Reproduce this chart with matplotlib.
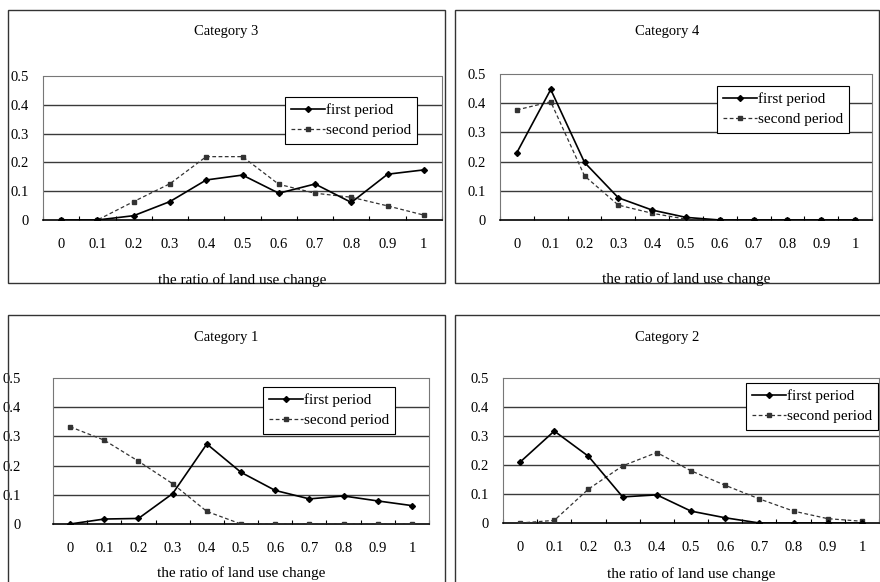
import matplotlib
matplotlib.use("Agg")
import matplotlib.pyplot as plt
from matplotlib.patches import Rectangle
from matplotlib.ticker import FixedLocator

ratio_labels = ["0", "0.1", "0.2", "0.3", "0.4", "0.5", "0.6", "0.7", "0.8", "0.9", "1"]
series_names = ["first period", "second period"]

cat3_first = [0, 0, 0.015, 0.064, 0.139, 0.156, 0.093, 0.125, 0.061, 0.159, 0.174]
cat3_second = [0, 0, 0.064, 0.126, 0.220, 0.220, 0.124, 0.093, 0.079, 0.049, 0.017]

cat4_first = [0.231, 0.447, 0.197, 0.076, 0.034, 0.009, 0, 0, 0, 0, 0]
cat4_second = [0.377, 0.405, 0.151, 0.051, 0.023, 0.003, 0, 0, 0, 0, 0]

cat1_first = [0, 0.017, 0.019, 0.104, 0.274, 0.177, 0.115, 0.086, 0.096, 0.079, 0.063]
cat1_second = [0.333, 0.287, 0.215, 0.138, 0.043, 0, 0, 0, 0, 0, 0]

cat2_first = [0.210, 0.317, 0.230, 0.090, 0.097, 0.041, 0.018, 0, 0, 0, 0]
cat2_second = [0, 0.009, 0.117, 0.197, 0.243, 0.180, 0.130, 0.083, 0.041, 0.015, 0.006]

W, H = 880, 582
plt.rcParams["font.family"] = ["Liberation Serif", "DejaVu Serif"]

fig = plt.figure(figsize=(W / 100, H / 100), dpi=100)


def fx(px):
    return px / W


def fy(py):
    return 1 - py / H


def draw_panel(title, first, second, axbox, frame, title_y, xlabel_y, legend_xy, ypad):
    l, t, r, b = axbox
    ax = fig.add_axes([fx(l), fy(b), fx(r) - fx(l), fy(t) - fy(b)])

    # outer chart frame
    fl, ft, fr, fb = frame
    fig.patches.append(Rectangle((fx(fl), fy(fb)), fx(fr) - fx(fl), fy(ft) - fy(fb),
                                 transform=fig.transFigure, fill=False,
                                 edgecolor="#333333", linewidth=1.0))

    x = list(range(len(ratio_labels)))
    ax.plot(x, first, color="black", linewidth=1.2, marker="D", markersize=3,
            label=series_names[0], zorder=4)
    ax.plot(x, second, color="#333333", linewidth=0.9, linestyle=(0, (3, 2)),
            marker="s", markersize=3, label=series_names[1], zorder=3)

    ax.set_xlim(-0.5, len(ratio_labels) - 0.5)
    ax.set_ylim(0, 0.5)
    ax.set_yticks([0, 0.1, 0.2, 0.3, 0.4, 0.5])
    ax.set_yticklabels(["0", "0.1", "0.2", "0.3", "0.4", "0.5"])
    ax.set_xticks(x)
    ax.set_xticklabels(ratio_labels)
    ax.xaxis.set_minor_locator(FixedLocator([i + 0.5 for i in range(-1, len(ratio_labels))]))

    for yv in [0.1, 0.2, 0.3, 0.4]:
        ax.axhline(yv, color="#3a3a3a", linewidth=1.0, zorder=1)

    ax.tick_params(axis="y", length=0, pad=ypad, labelsize=10.5)
    ax.tick_params(axis="x", which="major", length=0, pad=13, labelsize=10.5)
    ax.tick_params(axis="x", which="minor", length=3, direction="in", width=0.8)

    for side in ["top", "right", "left"]:
        ax.spines[side].set_linestyle((0, (1, 1)))
        ax.spines[side].set_color("#777777")
        ax.spines[side].set_linewidth(0.8)
    ax.spines["bottom"].set_color("black")
    ax.spines["bottom"].set_linewidth(1.2)

    fig.text(fx((fl + min(fr, W)) / 2), fy(title_y), title, ha="center", va="center", fontsize=10.5)
    fig.text(fx((l + r) / 2), fy(xlabel_y), "the ratio of land use change",
             ha="center", va="center", fontsize=11)

    leg = ax.legend(loc="upper left", bbox_to_anchor=(fx(legend_xy[0]), fy(legend_xy[1])),
                    bbox_transform=fig.transFigure, fontsize=11, frameon=True, fancybox=False,
                    borderaxespad=0, handlelength=2.2, handletextpad=0.1,
                    borderpad=0.4, labelspacing=0.45, framealpha=1)
    leg.get_frame().set_edgecolor("black")
    leg.get_frame().set_linewidth(0.8)
    return ax


draw_panel("Category 3", cat3_first, cat3_second, (43, 76, 442, 220), (8, 10, 445, 283),
           32, 280, (285, 97), 10)
draw_panel("Category 4", cat4_first, cat4_second, (500, 74, 872, 220), (455, 10, 879, 283),
           32, 279, (717, 86), 10)
draw_panel("Category 1", cat1_first, cat1_second, (53, 378, 429, 524), (8, 315, 445, 590),
           337, 573, (263, 387), 23)
draw_panel("Category 2", cat2_first, cat2_second, (503, 378, 879, 523), (455, 315, 890, 590),
           337, 574, (746, 383), 10)

fig.savefig("out.png", dpi=100)
